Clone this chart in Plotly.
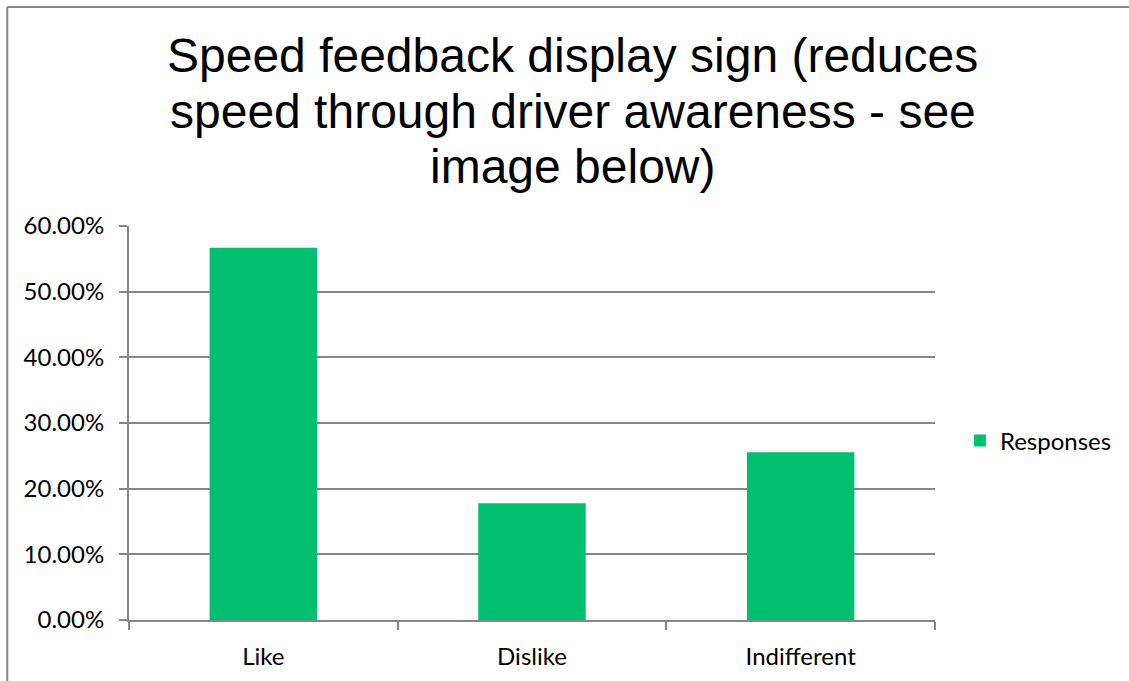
import plotly.graph_objects as go

# Survey responses for the speed feedback display sign
categories = ["Like", "Dislike", "Indifferent"]
responses = [0.5667, 0.1778, 0.2556]
series_name = "Responses"
title_lines = [
    "Speed feedback display sign (reduces",
    "speed through driver awareness - see",
    "image below)",
]

GRAY = "#868686"
GREEN = "#00BF6F"

fig = go.Figure(
    go.Bar(
        x=categories,
        y=responses,
        name=series_name,
        marker=dict(color=GREEN, line=dict(width=0)),
        width=0.4,
        showlegend=True,
    )
)

# plot area geometry (pixels) used to place paper-referenced items
L, R, T, B = 129, 192, 226, 61
W, H = 1129, 681
pw, ph = W - L - R, H - T - B


def px_x(x):
    return (x - L) / pw


def px_y(y):
    return (H - B - y) / ph


# title drawn as three centred lines
for line, yc in zip(title_lines, [56, 111, 166]):
    fig.add_annotation(
        text=line, xref="paper", yref="paper",
        x=px_x(574), y=px_y(yc), xanchor="center", yanchor="middle",
        showarrow=False,
        font=dict(family="Arial", size=48, color="#000000"),
    )

# chart frame (left and top edges)
fig.add_shape(type="line", xref="paper", yref="paper",
              x0=px_x(7), x1=px_x(7), y0=px_y(7), y1=px_y(700),
              line=dict(color=GRAY, width=2))
fig.add_shape(type="line", xref="paper", yref="paper",
              x0=px_x(7), x1=px_x(1140), y0=px_y(7), y1=px_y(7),
              line=dict(color=GRAY, width=2))

fig.update_layout(
    width=W, height=H,
    margin=dict(l=L, r=R, t=T, b=B, pad=0),
    paper_bgcolor="white", plot_bgcolor="white",
    font=dict(family="Lato, Calibri, sans-serif", size=24, color="#000000"),
    bargap=0.6,
    legend=dict(
        x=px_x(962), y=px_y(441), xanchor="left", yanchor="middle",
        font=dict(family="Lato, Calibri, sans-serif", size=24),
        bgcolor="rgba(0,0,0,0)",
    ),
    xaxis=dict(
        showline=True, linecolor=GRAY, linewidth=2,
        ticks="outside", tickson="boundaries", ticklen=8,
        tickcolor=GRAY, tickwidth=2,
        showgrid=False, ticklabelstandoff=14,
    ),
    yaxis=dict(
        range=[0, 0.6], dtick=0.1, tickformat=".2%",
        showline=True, linecolor=GRAY, linewidth=2,
        ticks="outside", ticklen=8, tickcolor=GRAY, tickwidth=2,
        showgrid=True, gridcolor=GRAY, gridwidth=1.5,
        zeroline=False, ticklabelstandoff=10,
    ),
)

fig.write_html("out.html")
